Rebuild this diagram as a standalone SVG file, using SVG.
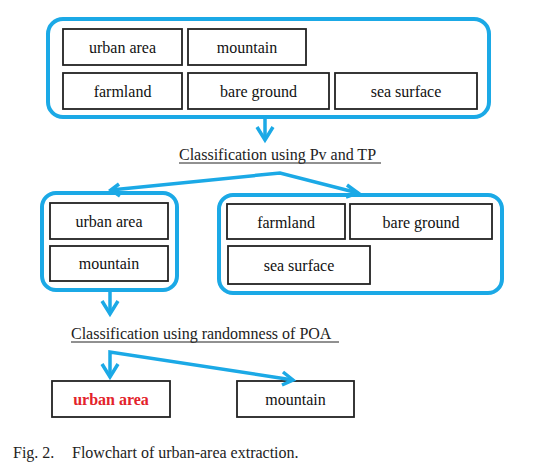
<svg xmlns="http://www.w3.org/2000/svg" width="548" height="475" viewBox="0 0 548 475" font-family="'Liberation Serif', 'Times New Roman', serif">
<defs>
<style>
.grp{fill:none;stroke:#1ba9e6;stroke-width:4}
.box{fill:#fff;stroke:#222;stroke-width:1.8}
.boxtext{font-family:'Liberation Serif','Times New Roman',serif;font-size:16px;fill:#111;text-anchor:middle}
.lbl{font-family:'Liberation Serif','Times New Roman',serif;font-size:16px;fill:#222}
.con{fill:none;stroke:#1ba9e6;stroke-width:3.5;stroke-linejoin:miter}
.head{fill:none;stroke:#1ba9e6;stroke-width:3.5;stroke-linecap:butt}
.ul{stroke:#222;stroke-width:1}
</style>
</defs>
<rect width="548" height="475" fill="#fff"/>
<g id="group-all">
<rect class="grp" x="48" y="19" width="441" height="98" rx="15"/>
</g>
<g id="n-urban1"><rect class="box" x="63" y="29" width="119" height="36"/><text class="boxtext" font-family="Liberation Serif, serif" x="122.5" y="53">urban area</text></g>
<g id="n-mountain1"><rect class="box" x="188" y="29" width="118" height="36"/><text class="boxtext" font-family="Liberation Serif, serif" x="247" y="53">mountain</text></g>
<g id="n-farmland1"><rect class="box" x="63" y="73" width="119" height="36"/><text class="boxtext" font-family="Liberation Serif, serif" x="122.5" y="97">farmland</text></g>
<g id="n-bare1"><rect class="box" x="188" y="73" width="141" height="36"/><text class="boxtext" font-family="Liberation Serif, serif" x="258.5" y="97">bare ground</text></g>
<g id="n-sea1"><rect class="box" x="335" y="73" width="142" height="36"/><text class="boxtext" font-family="Liberation Serif, serif" x="406" y="97">sea surface</text></g>
<g id="label-pv">
<text class="lbl" x="179" y="160">Classification using Pv and TP</text>
<line class="ul" x1="179" y1="163" x2="381" y2="163"/>
</g>
<g id="group-left"><rect class="grp" x="42" y="193" width="135" height="97" rx="14"/></g>
<g id="n-urban2"><rect class="box" x="50" y="203" width="118" height="36"/><text class="boxtext" font-family="Liberation Serif, serif" x="109" y="227">urban area</text></g>
<g id="n-mountain2"><rect class="box" x="50" y="246" width="118" height="35"/><text class="boxtext" font-family="Liberation Serif, serif" x="109" y="269">mountain</text></g>
<g id="group-right"><rect class="grp" x="219" y="195" width="283" height="98" rx="14"/></g>
<g id="n-farmland2"><rect class="box" x="227" y="204" width="118" height="35"/><text class="boxtext" font-family="Liberation Serif, serif" x="286" y="228">farmland</text></g>
<g id="n-bare2"><rect class="box" x="350" y="204" width="142" height="35"/><text class="boxtext" font-family="Liberation Serif, serif" x="421" y="228">bare ground</text></g>
<g id="n-sea2"><rect class="box" x="228" y="246" width="142" height="38"/><text class="boxtext" font-family="Liberation Serif, serif" x="299" y="271">sea surface</text></g>
<g id="label-poa">
<text class="lbl" x="71" y="339">Classification using randomness of POA</text>
<line class="ul" x1="71" y1="342" x2="339" y2="342"/>
</g>
<g id="n-urban3"><rect class="box" x="52" y="381" width="118" height="36"/><text class="boxtext" font-family="Liberation Serif, serif" x="111" y="405" style="font-weight:bold;fill:#e3232b">urban area</text></g>
<g id="n-mountain3"><rect class="box" x="237" y="381" width="117" height="36"/><text class="boxtext" font-family="Liberation Serif, serif" x="295.5" y="405">mountain</text></g>
<g id="connectors">
<line class="con" x1="265" y1="117" x2="265" y2="140"/>
<polyline class="head" points="257,127 265,140 273,127"/>
<polyline class="con" points="111,190 280,173 358,193"/>
<polyline class="head" points="119,184 111,190 120,196"/>
<polyline class="head" points="347,185 358,193 346,197"/>
<line class="con" x1="110" y1="290" x2="110" y2="314"/>
<polyline class="head" points="102,301 110,314 118,301"/>
<polyline class="con" points="110,377 110,352 293,380"/>
<polyline class="head" points="102,364 110,377 118,364"/>
<polyline class="head" points="283,372 293,380 282,385"/>
</g>
<g id="caption">
<text class="lbl" x="13" y="458">Fig. 2.</text>
<text class="lbl" x="72" y="458">Flowchart of urban-area extraction.</text>
</g>
</svg>
